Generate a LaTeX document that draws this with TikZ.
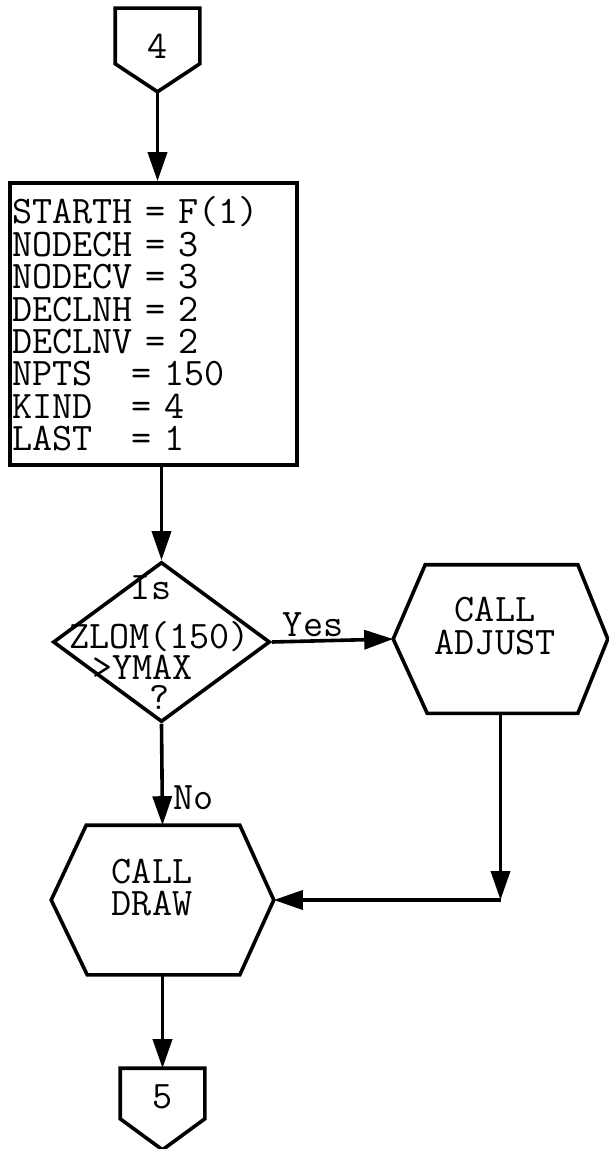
\documentclass[tikz,border=0pt]{standalone}
\usetikzlibrary{shapes.geometric,arrows.meta,calc}
\begin{document}
\begin{tikzpicture}[x=0.5pt,y=-0.5pt,
  line width=1.8pt,
  tt/.style={font=\ttfamily\fontsize{19.5pt}{16.2pt}\selectfont, inner sep=0pt},
  frame/.style={rectangle, inner sep=0pt},
  outline/.style={draw=black, line width=1.8pt, line join=miter},
  arr/.style={-{Triangle[length=14.5pt,width=9.5pt]}, line width=1.8pt}
]
\useasboundingbox (0,0) rectangle (609,1149);

% connector 4
\node[frame, minimum width=40.5pt, minimum height=40pt] (p4) at (157.5,50) {};
\draw[outline] (p4.north west) -- (p4.north east) -- ([yshift=14pt]p4.south east)
  -- (p4.south) -- ([yshift=14pt]p4.south west) -- cycle;
\node[tt] (t4) at (157.5,46) {4};

% initialisation box
\node[draw, rectangle, line width=1.8pt, tt, inner xsep=1pt, text width=141.5pt,
  minimum height=141pt, align=left] (init) at (153.5,324)
  {STARTH~=~F(1)\\NODECH~=~3\\NODECV~=~3\\DECLNH~=~2\\DECLNV~=~2\\NPTS~~~=~150\\KIND~~~=~4\\LAST~~~=~1};

% decision
\node[diamond, draw, line width=1.8pt, minimum width=108.5pt, minimum height=80pt, inner sep=0pt] (dec) at (161.5,642) {};
\node[tt] (d1) at (151,588) {Is};
\node[tt] (d2) at (159.5,637) {ZLOM(150)};
\node[tt] (d3) at (142.5,667) {>YMAX};
\node[tt] (d4) at (160,697) {?};

% CALL ADJUST
\node[frame, minimum width=105.5pt, minimum height=72.5pt] (adj) at (500.5,639) {};
\draw[outline] (adj.west) -- ([xshift=16pt]adj.north west) -- ([xshift=-15pt]adj.north east)
  -- (adj.east) -- ([xshift=-15pt]adj.south east) -- ([xshift=17pt]adj.south west) -- cycle;
\node[tt, align=center] (tadj) at (495,626) {CALL\\ADJUST};

% CALL DRAW
\node[frame, minimum width=109.5pt, minimum height=73pt] (drw) at (162.5,900) {};
\draw[outline] (drw.west) -- ([xshift=17.5pt]drw.north west) -- ([xshift=-17pt]drw.north east)
  -- (drw.east) -- ([xshift=-17pt]drw.south east) -- ([xshift=18pt]drw.south west) -- cycle;
\node[tt, align=center] (tdrw) at (152,887.5) {CALL\\DRAW};

% connector 5
\node[frame, minimum width=40.5pt, minimum height=39pt] (p5) at (162.5,1109) {};
\draw[outline] (p5.north west) -- (p5.north east) -- ([yshift=15.5pt]p5.south east)
  -- (p5.south) -- ([yshift=15.5pt]p5.south west) -- cycle;
\node[tt] (t5) at (163,1097) {5};

% connectors
\draw[arr] (p4.south) -- (p4.south |- init.north);
\draw[arr] (dec.north |- init.south) -- (dec.north);
\draw[arr] (dec.east) -- node[tt, anchor=south, pos=0.34, yshift=1pt] {Yes} (adj.west);
\draw[arr] (dec.south) -- node[tt, anchor=west, pos=0.73, xshift=4.5pt] {No} (drw.north);
\coordinate (corner) at (adj.south |- drw.east);
\draw[arr] (adj.south) -- (corner);
\draw[arr] (corner) -- (drw.east);
\draw[arr] (drw.south) -- (p5.north);
\end{tikzpicture}
\end{document}
